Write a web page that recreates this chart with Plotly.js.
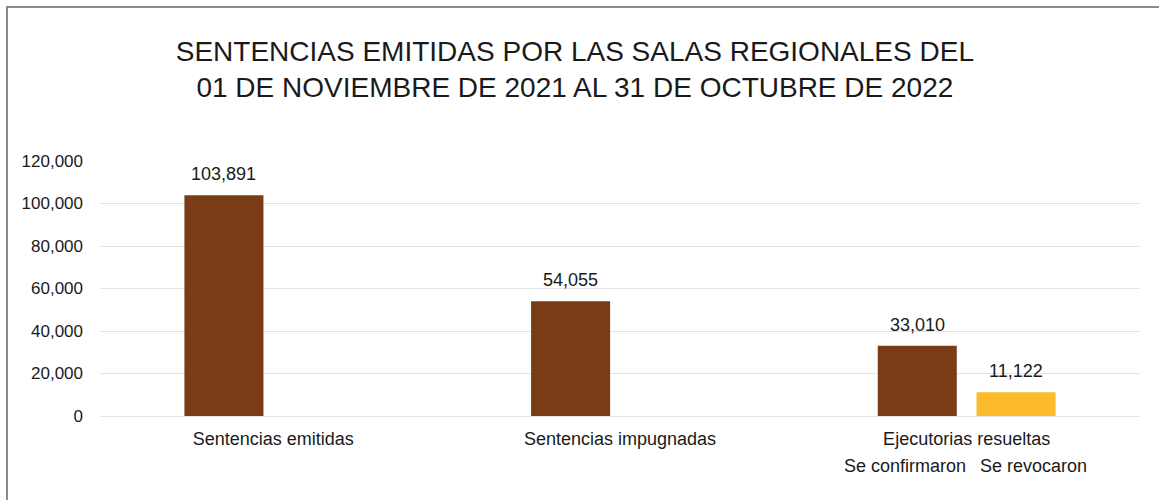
<!DOCTYPE html>
<html>
<head>
<meta charset="utf-8">
<script src="https://cdn.plot.ly/plotly-3.0.1.min.js"></script>
<style>
  html, body { margin: 0; padding: 0; background: #ffffff; }
  #wrap { position: relative; width: 1159px; height: 500px; overflow: hidden; }
  #chart { width: 1159px; height: 500px; }
  #frame { position: absolute; left: 6px; top: 6px; right: -10px; bottom: -10px;
           border-left: 2px solid #8a8a8a; border-top: 2px solid #8a8a8a; pointer-events: none; }
</style>
</head>
<body>
<div id="wrap">
  <div id="chart"></div>
  <div id="frame"></div>
</div>
<script>
const categories = ["Sentencias emitidas", "Sentencias impugnadas", "Ejecutorias resueltas"];
const seriesConfirmadas = [103891, 54055, 33010];
const seriesRevocadas = [null, null, 11122];
const subLabels = ["Se confirmaron", "Se revocaron"];
const yTicks = [0, 20000, 40000, 60000, 80000, 100000, 120000];

const fontFam = '"Liberation Sans", Arial, sans-serif';
const textColor = '#1a1a1a';

const W = 1159, H = 500;
const margin = { l: 100, r: 19, t: 161, b: 84 };
const bargap = 0.43, bargroupgap = 0.2;

const traces = [
  { type: 'bar', x: categories, y: seriesConfirmadas, name: subLabels[0],
    marker: { color: '#7a3b17' }, hoverinfo: 'x+y' },
  { type: 'bar', x: categories, y: seriesRevocadas, name: subLabels[1],
    marker: { color: '#fbbb2a' }, hoverinfo: 'x+y' }
];

// value labels: positioned on the category axis, shifted by the group slot offset
const plotW = W - margin.l - margin.r;
const slotPx = (plotW / categories.length) * (1 - bargap) / 2;
const seriesList = [seriesConfirmadas, seriesRevocadas];
const annotations = [];
seriesList.forEach((s, si) => {
  s.forEach((v, ci) => {
    if (v == null) return;
    annotations.push({
      xref: 'x', yref: 'y', x: categories[ci], y: v,
      xshift: (si - 0.5) * slotPx, yshift: 21, yanchor: 'middle', xanchor: 'center',
      text: v.toLocaleString('en-US'), showarrow: false,
      font: { family: fontFam, size: 18, color: textColor }
    });
  });
});
annotations.push(
  { xref: 'x', yref: 'paper', x: categories[2], y: 0, xshift: -62, yshift: -50, yanchor: 'middle',
    text: subLabels[0], showarrow: false, font: { family: fontFam, size: 18, color: textColor } },
  { xref: 'x', yref: 'paper', x: categories[2], y: 0, xshift: 67, yshift: -50, yanchor: 'middle',
    text: subLabels[1], showarrow: false, font: { family: fontFam, size: 18, color: textColor } }
);

const layout = {
  width: W, height: H, margin: margin,
  paper_bgcolor: 'rgba(0,0,0,0)', plot_bgcolor: '#ffffff',
  font: { family: fontFam, color: textColor, size: 17 },
  showlegend: false,
  barmode: 'group', bargap: bargap, bargroupgap: bargroupgap,
  title: {
    text: 'SENTENCIAS EMITIDAS POR LAS SALAS REGIONALES DEL<br>01 DE NOVIEMBRE DE 2021 AL 31 DE OCTUBRE DE 2022',
    font: { family: fontFam, size: 28, color: textColor },
    x: 0.496, xanchor: 'center', y: 1 - 60.5 / H, yanchor: 'middle', yref: 'container'
  },
  xaxis: {
    type: 'category', showgrid: false, showline: false, zeroline: false, ticks: '',
    ticklabelstandoff: 10,
    tickfont: { family: fontFam, size: 18, color: textColor }
  },
  yaxis: {
    range: [0, 120000], tickvals: yTicks, tickformat: ',d',
    showgrid: true, gridcolor: '#e3e3e3', gridwidth: 1,
    zeroline: true, zerolinecolor: '#e3e3e3', zerolinewidth: 1,
    showline: false, ticks: '', ticklabelstandoff: 16,
    tickfont: { family: fontFam, size: 17, color: textColor }
  },
  annotations: annotations
};

Plotly.newPlot('chart', traces, layout, { displayModeBar: false, staticPlot: true });
</script>
</body>
</html>
